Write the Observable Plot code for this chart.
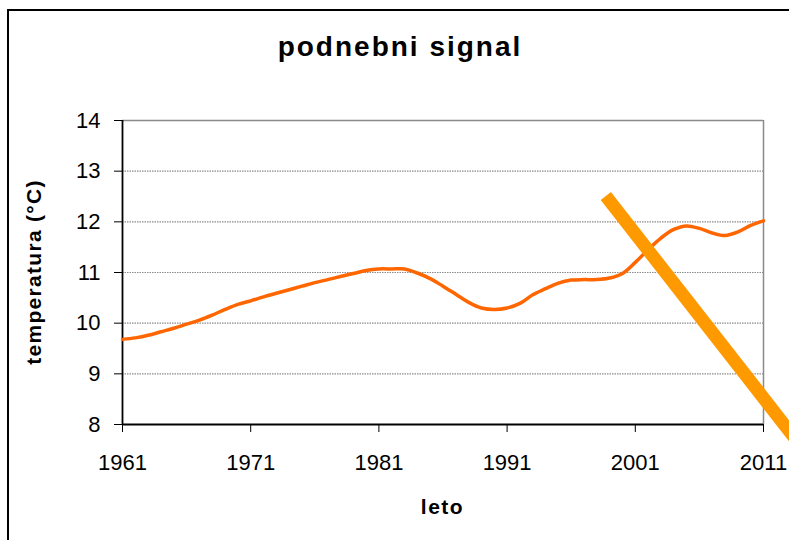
<!DOCTYPE html>
<html><head><meta charset="utf-8">
<script src="https://cdn.jsdelivr.net/npm/d3@7"></script>
<script src="https://cdn.jsdelivr.net/npm/@observablehq/plot@0.6"></script>
<style>
html,body{margin:0;padding:0;background:#fff;overflow:hidden;width:789px;height:540px;}
#wrap{position:relative;width:789px;height:540px;font-family:Arial,"Liberation Sans",sans-serif;color:#000;}
#chart{position:absolute;left:0;top:0;}
#frame{position:absolute;left:7px;top:9px;width:900px;height:700px;border-left:2px solid #000;border-top:2px solid #000;pointer-events:none;}
#title{position:absolute;left:0;top:33px;width:800px;text-align:center;font-weight:bold;font-size:28px;line-height:28px;letter-spacing:2px;white-space:nowrap;}
#xlab{position:absolute;left:0;top:496px;width:885px;text-align:center;font-weight:bold;font-size:21px;line-height:21px;letter-spacing:1.5px;white-space:nowrap;}
#ylab{position:absolute;left:33px;top:272px;transform:translate(-50%,-50%) rotate(-90deg);font-weight:bold;font-size:21px;line-height:21px;letter-spacing:1.3px;white-space:nowrap;}
</style>
</head><body>
<div id="wrap">
  <div id="chart"></div>
  <div id="frame"></div>
  <div id="title"></div>
  <div id="xlab"></div>
  <div id="ylab"></div>
</div>
<script>
const titleText = "podnebni signal";
const xLabel = "leto";
const yLabel = "temperatura (°C)";

const years = d3.range(1961, 2012);
const temps = [
  9.68, 9.71, 9.76, 9.83, 9.90, 9.98, 10.06, 10.16, 10.27, 10.37,
  10.44, 10.52, 10.59, 10.66, 10.73, 10.80, 10.86, 10.92, 10.98, 11.04,
  11.07, 11.07, 11.07, 10.99, 10.88, 10.73, 10.57, 10.41, 10.30, 10.27,
  10.30, 10.39, 10.56, 10.68, 10.79, 10.85, 10.86, 10.86, 10.89, 10.98,
  11.20, 11.45, 11.68, 11.85, 11.92, 11.87, 11.78, 11.73, 11.80, 11.93,
  12.02
];
const crossYears = [1998.7, 2014];
const crossTemps = [12.51, 7.55];

const xTicks = [1961, 1971, 1981, 1991, 2001, 2011];
const yTicks = [8, 9, 10, 11, 12, 13, 14];
const gridValues = [9, 10, 11, 12, 13];

const data = years.map((y, i) => ({year: y, temp: temps[i]}));
const cross = crossYears.map((y, i) => ({year: y, temp: crossTemps[i]}));

document.getElementById("title").textContent = titleText;
document.getElementById("xlab").textContent = xLabel;
document.getElementById("ylab").textContent = yLabel;

const chart = Plot.plot({
  width: 789,
  height: 540,
  marginLeft: 122,
  marginRight: 26,
  marginTop: 120,
  marginBottom: 116,
  x: {domain: [1961, 2011]},
  y: {domain: [8, 14]},
  style: {fontFamily: 'Arial, "Liberation Sans", sans-serif', fontSize: "22px", background: "transparent", color: "#000", overflow: "hidden"},
  marks: [
    Plot.ruleY(gridValues, {stroke: "#8a8a8a", strokeWidth: 1.2, strokeDasharray: "1.5,1"}),
    Plot.ruleY([14], {stroke: "#8a8a8a", strokeWidth: 1.5}),
    Plot.ruleX([2011], {stroke: "#8a8a8a", strokeWidth: 1.5}),
    Plot.axisY({ticks: yTicks, tickSize: 8, tickPadding: 14, tickFormat: d => String(d), label: null, fontSize: 22, stroke: "#000"}),
    Plot.axisX({ticks: xTicks, tickSize: 8, tickPadding: 22, tickFormat: d => String(d), label: null, fontSize: 22, stroke: "#000"}),
    Plot.ruleX([1961], {stroke: "#000", strokeWidth: 1.8}),
    Plot.ruleY([8], {stroke: "#000", strokeWidth: 2}),
    Plot.line(data, {x: "year", y: "temp", stroke: "#ff6600", strokeWidth: 3.5, curve: "catmull-rom"}),
    Plot.line(cross, {x: "year", y: "temp", stroke: "#ff9900", strokeWidth: 13, strokeLinecap: "butt"})
  ]
});
document.getElementById("chart").appendChild(chart);
</script>
</body></html>
